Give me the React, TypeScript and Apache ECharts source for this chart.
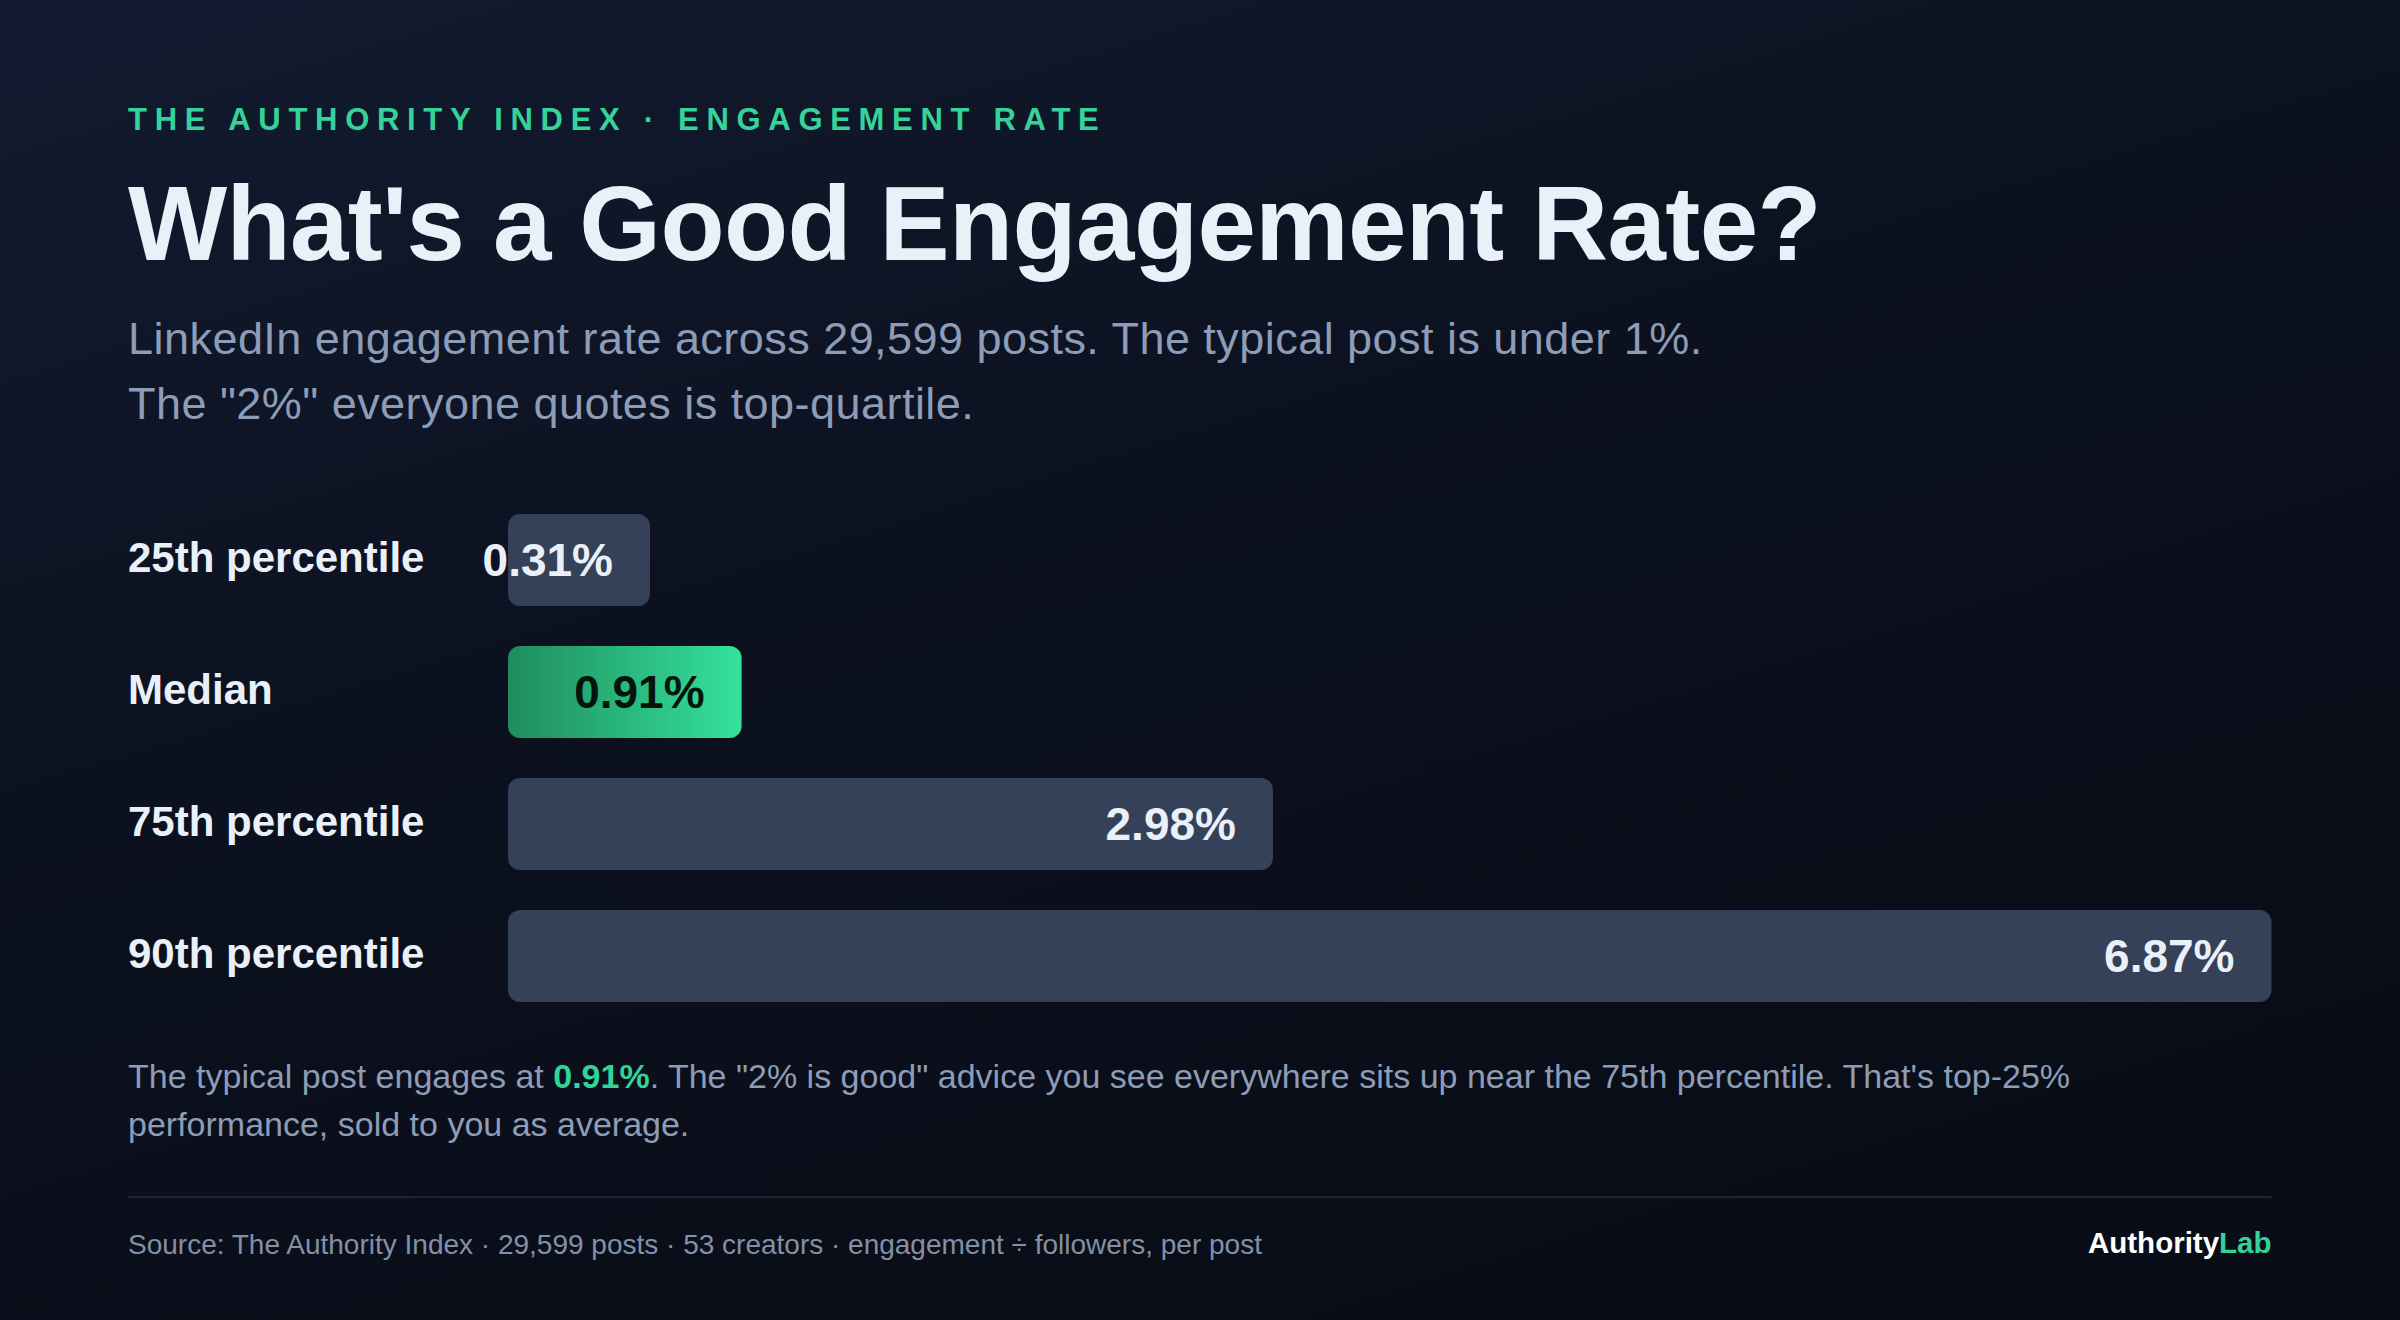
import React, { useEffect, useRef } from "react";
import * as echarts from "echarts";

const categories = ["25th percentile", "Median", "75th percentile", "90th percentile"];
const values = [0.31, 0.91, 2.98, 6.87];
const highlightIndex = 1;

const eyebrow = "THE AUTHORITY INDEX · ENGAGEMENT RATE";
const title = "What's a Good Engagement Rate?";
const subtitleLines = [
  "LinkedIn engagement rate across 29,599 posts. The typical post is under 1%.",
  'The "2%" everyone quotes is top-quartile.',
];
const notePre = "The typical post engages at ";
const noteHighlight = "0.91%";
const notePost = '. The "2% is good" advice you see everywhere sits up near the 75th percentile. That\'s top-25%';
const noteLine2 = "performance, sold to you as average.";
const source =
  "Source: The Authority Index · 29,599 posts · 53 creators · engagement ÷ followers, per post";
const brandA = "Authority";
const brandB = "Lab";

const FONT = '"Liberation Sans", Arial, Helvetica, sans-serif';
const GREEN = "#34d399";
const WHITE = "#eaf0f8";
const MUTED = "#8d9cb7";

export default function App() {
  const ref = useRef<HTMLDivElement>(null);

  useEffect(() => {
    document.body.style.margin = "0";
    const el = ref.current;
    if (!el) return;
    const chart = echarts.init(el, null, { renderer: "svg" });

    const greenGrad = new echarts.graphic.LinearGradient(0, 0, 1, 0, [
      { offset: 0, color: "#1f8c5e" },
      { offset: 1, color: "#35e29b" },
    ]);

    const option: any = {
      animation: false,
      backgroundColor: "#0b1020",
      grid: { left: 508, right: 128.5, top: 494, bottom: 298, containLabel: false },
      xAxis: {
        type: "value",
        min: 0,
        max: Math.max(...values),
        show: false,
      },
      yAxis: {
        type: "category",
        data: categories,
        inverse: true,
        axisLine: { show: false },
        axisTick: { show: false },
        splitLine: { show: false },
        axisLabel: {
          align: "left",
          verticalAlign: "bottom",
          lineHeight: 6,
          margin: 380,
          fontSize: 42,
          fontWeight: "bold",
          fontFamily: FONT,
          color: WHITE,
        },
      },
      series: [
        {
          type: "bar",
          silent: true,
          barWidth: 92,
          barMinHeight: 142,
          itemStyle: { borderRadius: 12, color: "#344159" },
          label: {
            show: true,
            position: "insideRight",
            distance: 37,
            fontSize: 46,
            fontWeight: "bold",
            fontFamily: FONT,
            formatter: (p: any) => `${Number(p.value).toFixed(2)}%`,
          },
          data: values.map((v, i) => ({
            value: v,
            itemStyle: { color: i === highlightIndex ? greenGrad : "#344159" },
            label: { color: i === highlightIndex ? "#05150d" : WHITE },
          })),
        },
      ],
      graphic: [
        {
          type: "rect",
          z: -100,
          silent: true,
          shape: { x: 0, y: 0, width: 2400, height: 1320 },
          style: {
            fill: new echarts.graphic.LinearGradient(0, 0, 0.55, 1, [
              { offset: 0, color: "#121b30" },
              { offset: 0.5, color: "#0c111f" },
              { offset: 1, color: "#090d17" },
            ]),
          },
        },
        {
          type: "text",
          x: 128,
          y: 119,
          z: 10,
          style: {
            text: eyebrow,
            fill: GREEN,
            fontSize: 31,
            fontWeight: "bold",
            fontFamily: FONT,
            verticalAlign: "middle",
            align: "left",
          },
        },
        {
          type: "text",
          x: 128,
          y: 223,
          z: 10,
          style: {
            text: title,
            fill: WHITE,
            fontSize: 105,
            fontWeight: "bold",
            fontFamily: FONT,
            verticalAlign: "middle",
            align: "left",
          },
        },
        ...subtitleLines.map((t, i) => ({
          type: "text",
          x: 128,
          y: 338 + i * 65.5,
          z: 10,
          style: {
            text: t,
            fill: MUTED,
            fontSize: 45,
            fontFamily: FONT,
            verticalAlign: "middle",
            align: "left",
          },
        })),
        {
          type: "text",
          x: 128,
          y: 1076,
          z: 10,
          style: {
            text: `{n|${notePre}}{h|${noteHighlight}}{n|${notePost}}`,
            fontFamily: FONT,
            fontSize: 34,
            verticalAlign: "middle",
            align: "left",
            rich: {
              n: { fill: MUTED, color: MUTED, fontSize: 34, fontFamily: FONT },
              h: { fill: GREEN, color: GREEN, fontSize: 34, fontWeight: "bold", fontFamily: FONT },
            },
          },
        },
        {
          type: "text",
          x: 128,
          y: 1124,
          z: 10,
          style: {
            text: noteLine2,
            fill: MUTED,
            fontSize: 34,
            fontFamily: FONT,
            verticalAlign: "middle",
            align: "left",
          },
        },
        {
          type: "line",
          z: 10,
          silent: true,
          shape: { x1: 128, y1: 1197, x2: 2271.5, y2: 1197 },
          style: { stroke: "#1c2436", lineWidth: 2 },
        },
        {
          type: "text",
          x: 128,
          y: 1244,
          z: 10,
          style: {
            text: source,
            fill: "#8390a6",
            fontSize: 28,
            fontFamily: FONT,
            verticalAlign: "middle",
            align: "left",
          },
        },
        {
          type: "text",
          x: 2271.5,
          y: 1242,
          z: 10,
          style: {
            text: `{a|${brandA}}{b|${brandB}}`,
            fontFamily: FONT,
            fontSize: 29.5,
            fontWeight: "bold",
            verticalAlign: "middle",
            align: "right",
            rich: {
              a: { fill: "#ffffff", color: "#ffffff", fontSize: 29.5, fontWeight: "bold", fontFamily: FONT },
              b: { fill: GREEN, color: GREEN, fontSize: 29.5, fontWeight: "bold", fontFamily: FONT },
            },
          },
        },
      ],
    };

    chart.setOption(option);

    const applySpacing = () => {
      const texts = el.querySelectorAll("text");
      texts.forEach((t) => {
        const s = t.textContent || "";
        if (s === eyebrow) (t as any).style.letterSpacing = "7.7px";
        else if (s === title) (t as any).style.letterSpacing = "-0.6px";
        else if (subtitleLines.includes(s)) (t as any).style.letterSpacing = "0.46px";
      });
    };
    applySpacing();
    chart.on("finished", applySpacing);

    return () => {
      chart.dispose();
    };
  }, []);

  return <div ref={ref} style={{ width: 2400, height: 1320, position: "fixed", left: 0, top: 0 }} />;
}
